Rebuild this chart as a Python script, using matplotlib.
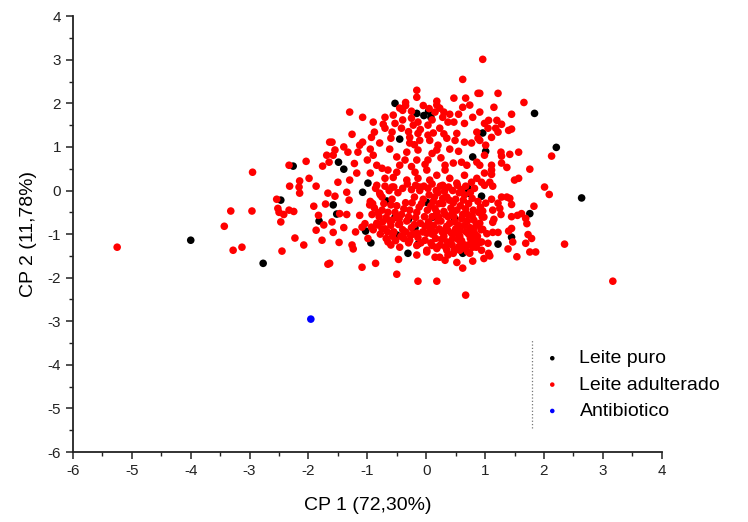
import numpy as np
import matplotlib
matplotlib.use("Agg")
import matplotlib.pyplot as plt
from matplotlib.ticker import MultipleLocator

plt.rcParams['font.family'] = ['Liberation Sans', 'DejaVu Sans']
plt.rcParams['axes.unicode_minus'] = False

# Leite puro (CP1, CP2)
puro = [
    (-4.0, -1.14), (-2.77, -1.67), (2.64, -0.17), (1.84, 1.77), (2.21, 0.99),
    (-2.47, -0.22), (-1.82, -0.70), (-2.26, 0.56), (-1.08, -0.04), (-1.58, -0.33),
    (-1.52, -0.54), (-1.03, -0.93), (-0.94, -1.20), (-0.67, -0.24), (-0.53, -0.61),
    (-0.50, -1.02), (-0.31, -1.44), (-0.14, -1.23), (-0.19, -0.86), (-0.30, -0.66),
    (0.11, -0.61), (0.48, -0.64), (0.71, -0.06), (0.77, -0.89), (0.62, -1.44),
    (0.01, -0.27), (0.94, -0.13), (1.76, -0.53), (1.45, -1.07), (1.22, -1.23),
    (-0.53, 2.00), (-0.16, 1.77), (-0.04, 1.72), (0.04, 1.82), (0.08, 1.68),
    (-0.45, 1.18), (-1.49, 0.65), (-1.40, 0.49), (-0.99, 0.17), (0.79, 0.77),
    (0.71, 0.05), (0.96, 1.32), (1.01, 0.90),
]

# Antibiotico
antib = [(-1.96, -2.95)]

# Leite adulterado - pontos externos
adult_out = [
    (-5.25, -1.30), (3.17, -2.08), (2.35, -1.23), (2.13, 0.79), (2.01, 0.08),
    (2.09, -0.09), (0.96, 3.01), (0.62, 2.55), (0.67, -2.40),
    (-2.95, 0.42), (-2.33, 0.58), (-2.04, 0.67), (-1.76, 0.56), (-1.69, 0.81),
    (-1.64, 1.11), (-1.65, 0.65), (-1.99, 0.28), (-2.15, 0.22), (-2.32, 0.10),
    (-2.16, 0.08), (-1.87, 0.10),
    (-2.54, -0.20), (-2.15, -0.06), (-3.32, -0.47), (-2.96, -0.47), (-3.43, -0.82),
    (-2.52, -0.41), (-2.50, -0.50), (-2.42, -0.55), (-2.33, -0.45), (-2.25, -0.48),
    (-2.47, -0.72), (-3.28, -1.37), (-3.13, -1.30), (-2.45, -1.39), (-2.23, -1.09),
    (-2.08, -1.25), (-1.91, -0.36), (-1.71, -0.31), (-1.83, -0.57), (-1.74, -0.79),
    (-1.87, -0.91), (-1.77, -1.14), (-1.67, -1.69), (-1.67, -0.06),
]

# Leite adulterado - regiao superior
adult_up = [
    (-0.16, 2.30), (0.88, 2.23), (-0.16, 2.14), (0.47, 2.12), (0.67, 2.12),
    (0.18, 2.05), (-0.45, 1.89), (-0.40, 1.84), (-0.25, 1.82), (-1.30, 1.80),
    (-1.08, 1.68), (-0.70, 1.68), (-0.90, 1.57), (-0.73, 1.52), (-0.56, 1.73),
    (-0.53, 1.54), (-0.42, 1.43), (-0.25, 1.66), (-0.22, 1.50), (-0.14, 1.57),
    (0.03, 1.50), (0.18, 1.96), (0.23, 1.89), (0.15, 1.80), (0.28, 1.68),
    (0.37, 1.57), (0.47, 1.57), (0.62, 1.91), (0.74, 1.96), (0.79, 1.68),
    (0.65, 1.54), (0.86, 1.34), (0.52, 1.31), (0.23, 1.43), (0.03, 1.27),
    (-0.14, 1.31), (-0.28, 1.22), (-0.58, 1.34), (-0.70, 1.43), (-0.93, 1.22),
    (-0.88, 1.34), (-1.26, 1.29), (-1.08, 1.11), (-1.13, 1.04), (-0.79, 1.09),
    (-0.28, 1.09), (-0.11, 1.15), (0.06, 1.15), (0.20, 1.04), (0.35, 1.20),
    (0.49, 1.15), (0.65, 1.11), (0.77, 1.09), (0.88, 1.20), (-1.60, 1.11),
    (-1.55, 0.93), (-1.33, 0.88), (-1.16, 0.88), (-0.90, 0.81), (-0.50, 0.77),
    (-0.33, 0.88), (-0.14, 0.93), (0.18, 0.93), (-0.16, 0.70), (0.03, 0.70),
    (-0.36, 0.70), (0.32, 0.58), (0.46, 0.63), (0.60, 0.65), (0.69, 0.58),
    (0.86, 0.65), (-0.84, 0.58), (-0.75, 0.51), (-0.65, 0.47), (-0.50, 0.42),
    (-0.19, 0.42), (0.01, 0.47), (0.18, 0.35), (0.32, 0.47), (-1.18, 0.40),
    (-1.30, 0.24), (-1.50, 0.19), (-0.70, 0.28), (-0.56, 0.30), (-0.33, 0.24),
    (-0.14, 0.28), (0.06, 0.24), (0.40, 0.28), (0.52, 0.17), (0.77, 0.19),
    (0.86, 0.28), (-0.84, 0.12), (-0.58, 0.08), (-0.11, 0.08), (0.28, 0.12),
    (-1.58, 0.81), (-1.00, 0.70), (-1.22, 0.62), (-0.95, 0.95), (-0.62, 0.95),
    (-0.05, 1.95), (-0.35, 2.02), (0.40, 1.75), (0.10, 1.62), (-0.60, 1.20),
    (-0.10, 1.40), (0.12, 1.32), (0.30, 1.30), (-0.40, 1.62), (-0.30, 1.35),
    (0.05, 1.88), (0.30, 1.80), (0.55, 1.75), (-0.20, 1.05), (0.40, 0.95),
    (0.10, 0.85), (-0.45, 0.58), (0.25, 0.75), (0.55, 0.90), (-0.02, 0.60),
    (-0.25, 0.55), (0.65, 0.35), (-0.95, 0.40), (-1.40, 1.00), (-0.35, 1.95),
    (1.22, 2.23), (1.66, 2.02), (1.15, 1.91), (0.91, 2.23), (0.91, 1.80),
    (1.45, 1.75), (1.06, 1.61), (1.20, 1.61), (0.99, 1.54), (1.05, 1.43),
    (1.18, 1.43), (1.28, 1.52), (1.40, 1.38), (1.45, 1.41), (1.22, 1.34),
    (1.11, 1.22), (0.91, 1.15), (1.01, 1.04), (1.27, 0.88), (1.28, 0.79),
    (1.42, 0.83), (1.57, 0.88), (0.99, 0.81), (1.28, 0.63), (1.37, 0.53),
    (1.11, 0.58), (1.11, 0.47), (1.11, 0.37), (0.99, 0.40), (0.91, 0.58),
    (1.76, 0.49), (1.57, 0.28), (1.50, 0.24), (1.08, 0.19), (0.94, 0.19),
    (1.13, 0.10), (0.99, 0.12),
]

# Leite adulterado - regiao inferior direita
adult_dr = [
    (1.28, -0.15), (1.37, -0.15), (1.42, -0.18), (1.11, -0.20), (1.01, -0.29),
    (1.22, -0.29), (1.45, -0.32), (1.83, -0.36), (1.25, -0.41), (1.13, -0.45),
    (0.96, -0.47), (1.27, -0.55), (0.98, -0.61), (1.45, -0.60), (1.55, -0.57),
    (1.62, -0.53), (1.69, -0.64), (1.15, -0.66), (1.13, -0.73), (1.71, -0.76),
    (0.91, -0.75), (1.45, -0.87), (1.40, -0.93), (1.13, -0.96), (1.22, -0.96),
    (1.03, -0.99), (0.96, -0.89), (1.73, -1.01), (1.79, -1.10), (0.94, -1.18),
    (1.05, -1.21), (1.47, -1.18), (1.69, -1.21), (1.39, -1.34), (0.94, -1.37),
    (1.06, -1.44), (1.08, -1.50), (1.76, -1.41), (1.86, -1.41), (1.54, -1.52),
    (0.98, -1.56),
]

# Leite adulterado - regiao inferior esquerda / centro
adult_dl = [
    (-1.60, -0.72), (-1.58, -0.96), (-1.48, -1.19), (-1.64, -1.67), (-1.26, -1.25),
    (-1.24, -1.34), (-1.09, -1.76), (-0.86, -1.67), (-0.65, -1.18), (-0.47, -1.58),
    (-0.50, -1.92), (-0.16, -1.48), (-0.14, -2.08), (0.18, -2.08), (0.52, -1.65),
    (0.62, -1.78), (0.79, -1.62), (0.32, -1.60), (0.15, -1.53), (0.01, -1.41),
    (0.37, -1.48), (-1.55, -0.13), (-1.35, -0.04), (-1.31, -0.22), (-1.47, -0.53),
    (-1.35, -0.55), (-1.13, -0.57), (-0.96, -0.33), (-0.91, -0.30), (-0.79, -0.06),
    (-0.75, -0.15), (-0.82, -0.51), (-1.04, -0.76), (-0.93, -0.84), (-0.82, -0.79),
    (-0.75, -0.88), (-1.09, -0.84), (-0.99, -1.10), (-0.60, -0.33), (-0.58, -0.68),
    (-0.56, -0.96), (-0.45, -0.76), (-0.40, -1.07), (-0.28, -1.14), (-0.16, -0.98),
    (0.01, -0.98), (-0.02, -1.14), (0.10, -1.26), (0.18, -1.33), (0.23, -1.53),
    (0.35, -1.37), (0.46, -1.44), (0.57, -1.37), (0.74, -1.44), (0.82, -1.21),
    (0.86, -1.07), (0.01, -1.37), (-0.16, -1.26), (-1.20, -0.95), (-1.40, -0.85),
]

# Leite adulterado - nucleo denso
adult_core = [
    (0.05, -0.10), (0.12, -0.25), (0.20, -0.05), (0.28, -0.30), (0.35, -0.15),
    (0.42, -0.40), (0.50, -0.20), (0.58, -0.35), (0.65, -0.10), (0.72, -0.30),
    (0.80, -0.45), (0.88, -0.25), (0.02, -0.45), (0.10, -0.60), (0.18, -0.50),
    (0.25, -0.70), (0.32, -0.55), (0.40, -0.75), (0.47, -0.60), (0.55, -0.80),
    (0.62, -0.55), (0.70, -0.70), (0.78, -0.58), (0.85, -0.80), (0.06, -0.85),
    (0.14, -0.95), (0.22, -0.88), (0.30, -1.05), (0.37, -0.92), (0.45, -1.10),
    (0.52, -0.98), (0.60, -1.15), (0.68, -0.95), (0.75, -1.10), (0.83, -1.00),
    (0.90, -1.20), (0.08, -1.20), (0.16, -1.10), (0.24, -1.25), (0.33, -1.30),
    (0.41, -1.22), (0.48, -1.35), (0.56, -1.28), (0.64, -1.32), (0.71, -1.25),
    (0.79, -1.30), (-0.05, -0.20), (-0.12, -0.38), (-0.20, -0.15), (-0.28, -0.45),
    (-0.35, -0.28), (-0.42, -0.55), (-0.50, -0.35), (-0.58, -0.20), (-0.65, -0.50),
    (-0.72, -0.30), (-0.80, -0.60), (-0.88, -0.40), (-0.03, -0.60), (-0.10, -0.75),
    (-0.18, -0.62), (-0.25, -0.85), (-0.33, -0.70), (-0.40, -0.90), (-0.47, -0.78),
    (-0.55, -0.95), (-0.62, -0.70), (-0.70, -0.88), (-0.78, -1.00), (-0.06, -0.95),
    (-0.14, -1.08), (-0.22, -1.00), (-0.30, -1.20), (-0.38, -1.10), (-0.45, -1.30),
    (-0.52, -1.15), (-0.60, -1.25), (-0.68, -1.10), (0.03, 0.05), (0.10, 0.15),
    (0.17, 0.00), (0.24, 0.10), (0.31, -0.02), (0.38, 0.08), (0.45, 0.00),
    (0.53, 0.12), (0.60, 0.02), (0.67, 0.10), (0.75, -0.05), (0.82, 0.05),
    (-0.04, 0.10), (-0.11, 0.00), (-0.18, 0.12), (-0.25, 0.02), (-0.32, 0.15),
    (-0.40, 0.05), (-0.48, -0.05), (-0.55, 0.08), (-0.63, 0.00), (-0.70, 0.10),
    (-0.78, -0.10), (-0.86, 0.05), (0.08, -0.35), (0.15, -0.42), (0.22, -0.30),
    (0.30, -0.48), (0.37, -0.60), (0.44, -0.52), (0.52, -0.45), (0.60, -0.65),
    (0.67, -0.42), (0.74, -0.85), (0.81, -0.68), (0.89, -0.50), (0.04, -0.72),
    (0.12, -0.80), (0.20, -0.70), (0.27, -0.95), (0.35, -0.82), (0.43, -0.98),
    (0.50, -0.88), (0.57, -1.05), (0.65, -0.80), (0.72, -1.00), (0.80, -0.90),
    (0.87, -1.05), (0.10, -1.00), (0.18, -1.30), (0.26, -1.12), (0.36, -1.18),
    (0.44, -1.25), (0.54, -1.12), (0.62, -1.22), (0.70, -1.40), (0.77, -1.18),
    (0.85, -1.30), (0.28, -0.18), (0.46, -0.28), (0.63, -0.22), (0.78, -0.18),
    (0.92, -0.38), (0.95, -0.60), (0.93, -0.90), (-0.08, -0.30), (-0.16, -0.50),
    (-0.24, -0.28), (-0.30, -0.60), (-0.38, -0.42), (-0.46, -0.65), (-0.53, -0.50),
    (-0.60, -0.80), (-0.68, -0.62), (-0.75, -0.45), (-0.84, -0.75), (-0.92, -0.55),
    (-0.02, -0.82), (-0.09, -1.20), (-0.20, -0.78), (-0.27, -1.02), (-0.35, -0.95),
    (-0.43, -1.05), (-0.50, -0.60), (-0.57, -1.05), (-0.66, -0.95), (-0.74, -0.72),
    (-0.90, -0.90), (-0.95, -0.25), (0.14, -0.15), (0.39, -0.22), (0.56, -0.05),
    (0.70, -0.55), (0.33, -0.88), (0.58, -0.92), (0.21, -0.60), (0.49, -0.72),
]

adult = adult_out + adult_up + adult_dr + adult_dl + adult_core

series = [
    ("Leite puro", puro, "#000000"),
    ("Leite adulterado", adult, "#ff0000"),
    ("Antibiotico", antib, "#0000ff"),
]

fig = plt.figure(figsize=(7.48, 5.22), dpi=100)
ax = fig.add_axes([0.0976, 0.134, 0.787, 0.835])

for label, pts, col in series:
    arr = np.array(pts)
    ax.scatter(arr[:, 0], arr[:, 1], s=30, c=col, edgecolors='none', label=label, zorder=3)

ax.set_xlim(-6, 4)
ax.set_ylim(-6, 4)
ax.xaxis.set_major_locator(MultipleLocator(1))
ax.yaxis.set_major_locator(MultipleLocator(1))
ax.xaxis.set_minor_locator(MultipleLocator(0.5))
ax.yaxis.set_minor_locator(MultipleLocator(0.5))
ax.tick_params(which='major', direction='out', length=5, width=1.1, labelsize=11, colors='#222222')
ax.tick_params(which='minor', direction='out', length=3, width=1.0, colors='#222222')
for side in ['top', 'right']:
    ax.spines[side].set_visible(False)
for side in ['left', 'bottom']:
    ax.spines[side].set_linewidth(1.3)
    ax.spines[side].set_color('#222222')

ax.set_xlabel("CP 1 (72,30%)", fontsize=14, labelpad=14)
ax.set_ylabel("CP 2 (11,78%)", fontsize=14, labelpad=8)

# linha pontilhada ao lado da legenda
ax.plot([0.779, 0.779], [0.055, 0.257], transform=ax.transAxes,
        ls=':', lw=0.9, color='#777777', zorder=2)

leg = ax.legend(loc='upper left', bbox_to_anchor=(0.758, 0.266), frameon=False,
                fontsize=14, markerscale=0.6, handletextpad=0.4,
                labelspacing=0.45, borderpad=0.2)

fig.savefig("out.png", dpi=100)
